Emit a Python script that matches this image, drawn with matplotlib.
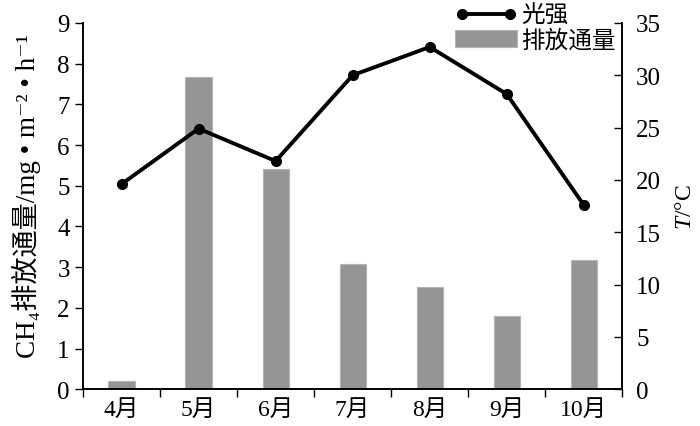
import numpy as np
import matplotlib
matplotlib.use('Agg')
import matplotlib.pyplot as plt
from matplotlib.ticker import FixedLocator

plt.rcParams['font.family'] = ['Liberation Serif', 'Noto Sans CJK SC', 'DejaVu Serif']
plt.rcParams['mathtext.fontset'] = 'custom'
plt.rcParams['mathtext.rm'] = 'Liberation Serif'
plt.rcParams['mathtext.it'] = 'Liberation Serif:italic'

# data
months = ['4月', '5月', '6月', '7月', '8月', '9月', '10月']
flux = [0.2, 7.68, 5.42, 3.07, 2.52, 1.81, 3.18]           # CH4 emission flux (left axis)
light = [19.6, 24.9, 21.8, 30.0, 32.7, 28.2, 17.6]         # light intensity / T (right axis)

x = np.arange(len(months))

fig = plt.figure(figsize=(7.0, 4.27), dpi=100)
ax = fig.add_axes([0.1186, 0.086, 0.7704, 0.858])
ax2 = ax.twinx()

bars = ax.bar(x, flux, width=0.34, color='#959595', edgecolor='#b5b5b5', linewidth=0.8,
              label='排放通量', zorder=2)
line, = ax2.plot(x, light, color='black', lw=2.8, marker='o', ms=7, label='光强', zorder=3)

ax.set_xlim(-0.5, len(months) - 0.5)
ax.set_ylim(0, 9)
ax2.set_ylim(0, 35)
ax.set_yticks(range(0, 10))
ax2.set_yticks(range(0, 36, 5))

ax.set_xticks(x)
ax.set_xticklabels(months, fontsize=17)
ax.xaxis.set_minor_locator(FixedLocator(np.arange(-0.5, len(months), 1.0)))
ax.tick_params(axis='x', which='major', length=0, pad=7)
ax.tick_params(axis='x', which='minor', length=6, direction='out', width=1)
ax.tick_params(axis='y', labelsize=18, direction='out', length=6, width=1)
ax2.tick_params(axis='y', labelsize=18, direction='in', length=6, width=1, pad=10)

for a in (ax, ax2):
    a.spines['top'].set_visible(False)
    for s in ('left', 'right', 'bottom'):
        a.spines[s].set_linewidth(1.2)

ax.set_ylabel('CH₄排放通量/mg • m⁻² • h⁻¹', fontsize=19.5)
ax.yaxis.set_label_coords(-0.078, 0.53)
ax2.set_ylabel(r'$T$/°C', fontsize=17, labelpad=10)

fig.legend([line, bars], ['光强', '排放通量'], loc='upper right',
           bbox_to_anchor=(0.9, 1.02), frameon=False, fontsize=17,
           numpoints=2, handlelength=2.6, handletextpad=0.2,
           labelspacing=0.1, borderaxespad=0.2)

fig.savefig('out.png', dpi=100)
